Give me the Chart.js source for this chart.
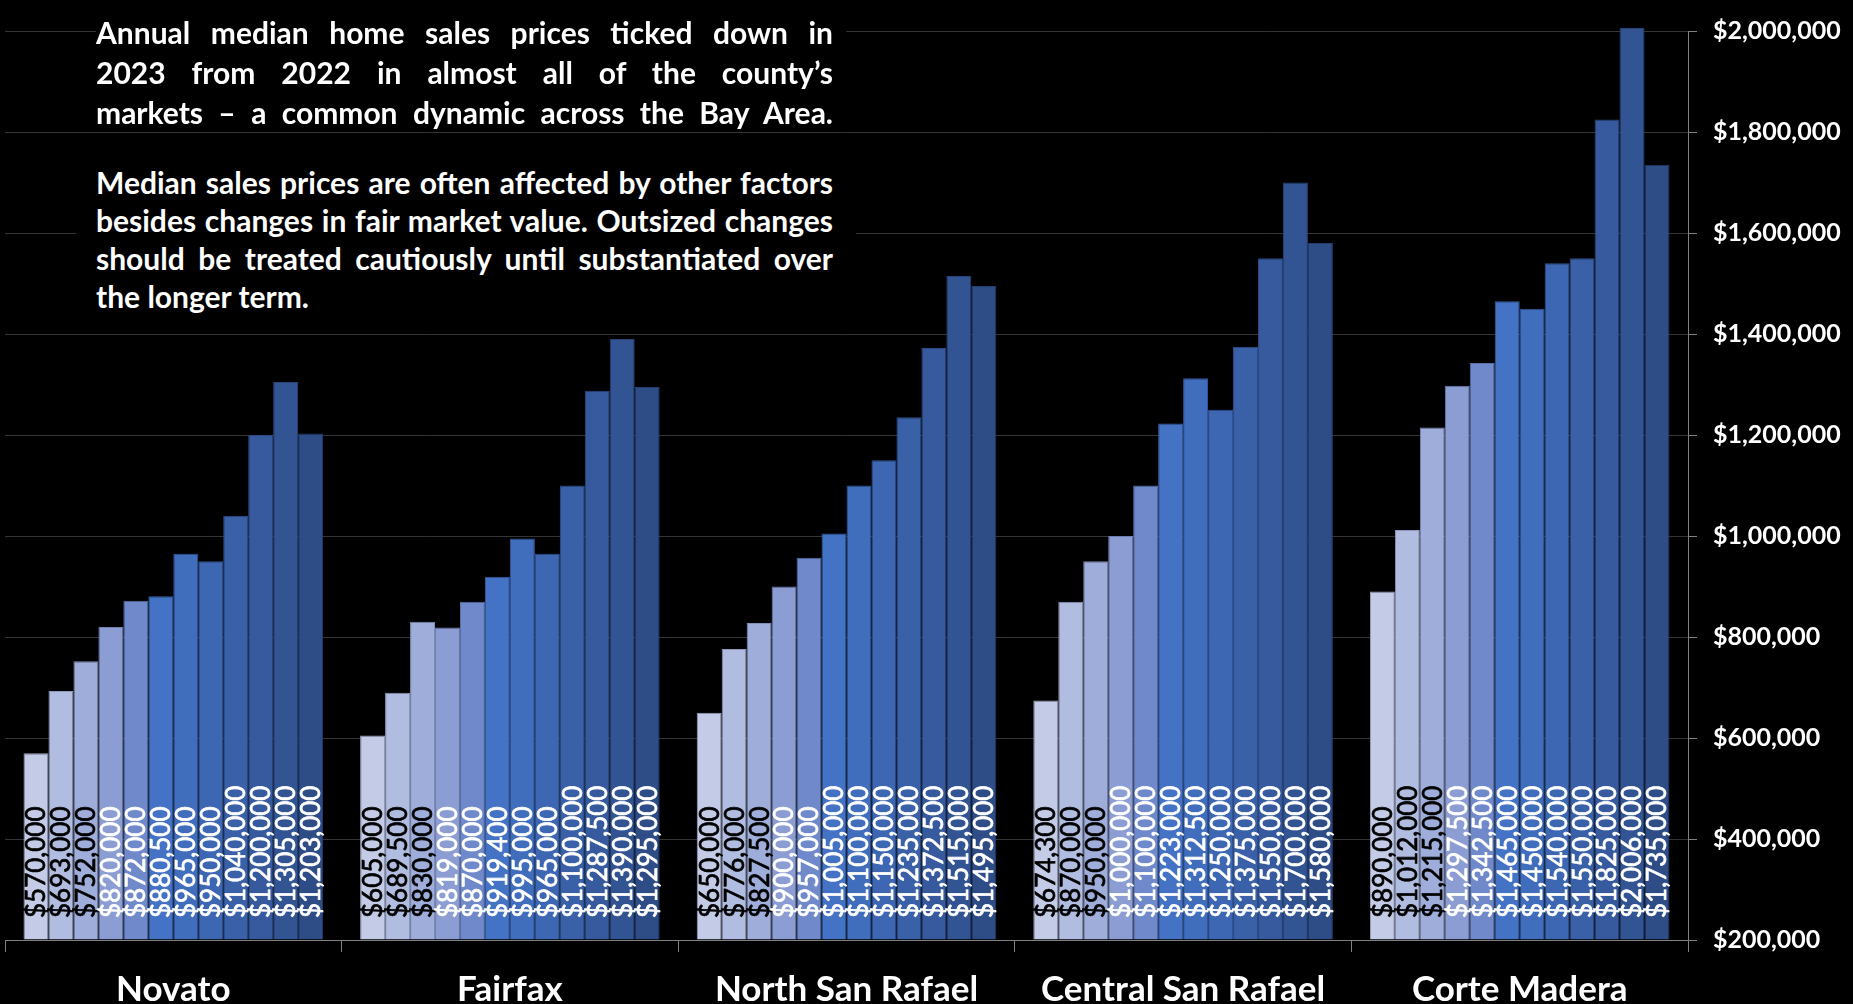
<!DOCTYPE html>
<html>
<head>
<meta charset="utf-8">
<script src="https://cdn.jsdelivr.net/npm/chart.js@4"></script>
<style>
  html, body { margin: 0; padding: 0; background: #000; }
  #wrap { position: relative; width: 1853px; height: 1004px; overflow: hidden; }
  canvas { display: block; }
  .note { position: absolute; background: #000; color: #fff; font-family: Lato, sans-serif; font-weight: 700; font-size: 30px; }
  .note div { width: 737px; text-align: justify; text-align-last: justify; }
  .note div.last { text-align-last: left; }
</style>
</head>
<body>
<div id="wrap">
  <canvas id="chart" width="1853" height="1004"></canvas>
  <div class="note" style="left:96px;top:12px;width:750px;height:116px;line-height:40px;">
    <div>Annual median home sales prices ticked down in</div>
    <div>2023 from 2022 in almost all of the county’s</div>
    <div>markets – a common dynamic across the Bay Area.</div>
  </div>
  <div class="note" style="left:76px;top:150px;width:780px;height:172px;line-height:38px;padding-top:13px;box-sizing:border-box;">
    <div style="margin-left:20px">Median sales prices are often affected by other factors</div>
    <div style="margin-left:20px">besides changes in fair market value. Outsized changes</div>
    <div style="margin-left:20px">should be treated cautiously until substantiated over</div>
    <div style="margin-left:20px" class="last">the longer term.</div>
  </div>
</div>
<script>
// --- DATA ---
const areas = ['Novato', 'Fairfax', 'North San Rafael', 'Central San Rafael', 'Corte Madera'];
const years = ['2012', '2013', '2014', '2015', '2016', '2017', '2018', '2019', '2020', '2021', '2022', '2023'];

const novato = [570000, 693000, 752000, 820000, 872000, 880500, 965000, 950000, 1040000, 1200000, 1305000, 1203000];
const fairfax = [605000, 689500, 830000, 819000, 870000, 919400, 995000, 965000, 1100000, 1287500, 1390000, 1295000];
const northSanRafael = [650000, 776000, 827500, 900000, 957000, 1005000, 1100000, 1150000, 1235000, 1372500, 1515000, 1495000];
const centralSanRafael = [674300, 870000, 950000, 1000000, 1100000, 1223000, 1312500, 1250000, 1375000, 1550000, 1700000, 1580000];
const corteMadera = [890000, 1012000, 1215000, 1297500, 1342500, 1465000, 1450000, 1540000, 1550000, 1825000, 2006000, 1735000];

const yTicks = [200000, 400000, 600000, 800000, 1000000, 1200000, 1400000, 1600000, 1800000, 2000000];

const barColors = ['#c3cbe6', '#b1bde0', '#9eadd9', '#8b9dd2', '#6f89ca', '#4472c4',
                   '#406dbc', '#3d67b2', '#3a61a8', '#365a9d', '#325493', '#2e4c86'];
const edgeColors = ['#9aa3c0', '#8d98bb', '#7f8db4', '#6f7faf', '#5870a8', '#365ca0',
                    '#33589a', '#315392', '#2e4e89', '#2b4880', '#284378', '#243c6c'];

const byArea = [novato, fairfax, northSanRafael, centralSanRafael, corteMadera];

const money = v => '$' + v.toLocaleString('en-US');

// --- INSIDE-BASE VERTICAL LABELS ---
const barLabels = {
  id: 'barLabels',
  afterDatasetsDraw(chart) {
    const ctx = chart.ctx;
    const bottom = chart.chartArea.bottom;
    ctx.save();
    ctx.font = '26px Lato';
    ctx.textBaseline = 'middle';
    ctx.textAlign = 'left';
    ctx.lineWidth = 0.7;
    chart.data.datasets.forEach((ds, i) => {
      const meta = chart.getDatasetMeta(i);
      ctx.fillStyle = i < 3 ? '#000000' : '#ffffff';
      ctx.strokeStyle = ctx.fillStyle;
      meta.data.forEach((bar, j) => {
        ctx.save();
        ctx.translate(bar.x, bottom - 22);
        ctx.rotate(-Math.PI / 2);
        ctx.fillText(money(ds.data[j]), 0, 1);
        ctx.strokeText(money(ds.data[j]), 0, 1);
        ctx.restore();
      });
    });
    ctx.restore();
  }
};

const datasets = years.map((yr, i) => ({
  label: yr,
  data: byArea.map(a => a[i]),
  base: 200000,
  backgroundColor: barColors[i],
  borderColor: edgeColors[i],
  borderWidth: 1,
  categoryPercentage: 0.89,
  barPercentage: 1.0,
  clip: { left: 0, top: 20, right: 0, bottom: 0 }
}));

new Chart(document.getElementById('chart'), {
  type: 'bar',
  data: { labels: areas, datasets },
  plugins: [barLabels],
  options: {
    responsive: false,
    animation: false,
    layout: { padding: { left: 5, top: 30, right: 0, bottom: 0 } },
    plugins: { legend: { display: false }, tooltip: { enabled: false } },
    scales: {
      x: {
        grid: { offset: true, drawOnChartArea: false, color: '#808080', tickLength: 12 },
        border: { color: '#808080' },
        ticks: { color: '#ffffff', font: { family: 'Lato', weight: 'bold', size: 35 }, padding: 17, maxRotation: 0 },
        afterFit(scale) { scale.height = 64; }
      },
      y: {
        position: 'right',
        min: 200000,
        max: 2000000,
        afterBuildTicks(scale) { scale.ticks = yTicks.map(v => ({ value: v })); },
        grid: { color: '#353535', tickColor: '#808080', tickLength: 9 },
        border: { color: '#808080' },
        ticks: {
          color: '#ffffff',
          padding: 16,
          font: { family: 'Lato', weight: 'bold', size: 25 },
          callback: v => money(v)
        },
        afterFit(scale) { scale.width = 165; }
      }
    }
  }
});
</script>
</body>
</html>
